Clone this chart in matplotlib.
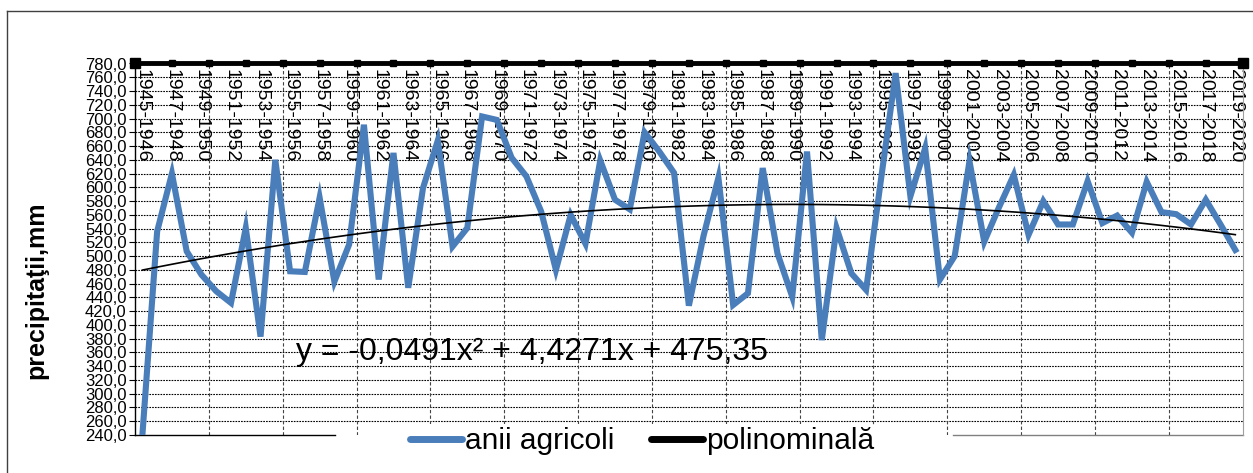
import numpy as np
import matplotlib.pyplot as plt

plt.rcParams['font.family'] = ['Liberation Sans', 'DejaVu Sans']

# anii agricoli 1945-1946 ... 2019-2020
start_years = list(range(1945, 2020))
year_labels = [f"{y}-{y + 1}" for y in start_years]
precip = [240, 536, 620, 507, 473, 449, 432, 541, 383, 640,
          478, 477, 585, 463, 517, 691, 466, 650, 454, 599,
          668, 514, 541, 703, 698, 643, 616, 565, 480, 560,
          518, 639, 582, 568, 680, 652, 621, 428, 530, 614,
          429, 446, 628, 504, 441, 652, 378, 541, 475, 451,
          610, 766, 587, 657, 466, 500, 638, 521, 571, 618,
          531, 580, 546, 546, 609, 548, 559, 534, 608, 564,
          561, 546, 582, 546, 509]
trend_coef = [-0.0491, 4.4271, 475.35]
equation = "y = -0,0491x² + 4,4271x + 475,35"
y_min, y_max, y_step = 240, 780, 20

idx = np.arange(len(precip))
trend = np.polyval(trend_coef, idx + 1)

fig = plt.figure(figsize=(12.53, 4.73), dpi=100)
ax = fig.add_axes([135 / 1253, 1 - 435 / 473, 1107.7 / 1253, 371.5 / 473])

ax.set_xlim(-0.5, len(precip) - 0.5)
ax.set_ylim(y_min, y_max)

# grid
yt = np.arange(y_min, y_max + 1, y_step)
ax.set_yticks(yt)
ax.set_yticklabels([f"{v:.1f}".replace('.', ',') for v in yt], fontsize=12)
ax.tick_params(axis='y', direction='out', length=4, width=0.8, pad=2)
for v in yt[1:-1]:
    ax.axhline(v, color='black', lw=0.8, ls=(0, (1.5, 1)), zorder=1)
for b in np.arange(-0.5 + 5, len(precip) - 0.5, 5):
    ax.axvline(b, color='#444444', lw=0.8, ls=(0, (3, 2)), zorder=1)
ax.set_xticks([])

ax.plot(idx, precip, color='#4a7ebb', lw=4.4, solid_joinstyle='miter', label='anii agricoli', zorder=3)
ax.plot(idx, trend, color='black', lw=1.2, label='polinominală', zorder=4)

# top axis with tick squares
tick_pos = np.arange(-0.5, len(precip), 2.5)
ax.plot([-0.5, len(precip) - 0.5], [y_max, y_max], color='black', lw=3.5, clip_on=False, zorder=5)
ax.plot(tick_pos, [y_max] * len(tick_pos), 's', color='black', ms=5, clip_on=False, zorder=5)
ax.plot([tick_pos[0], tick_pos[-1]], [y_max, y_max], 's', color='black', ms=7, clip_on=False, zorder=5)

for i in range(0, len(year_labels), 2):
    ax.annotate(year_labels[i], (i, y_max), xytext=(0, -4), textcoords='offset points',
                rotation=270, ha='center', va='top', fontsize=14, zorder=2)

ax.text(10.4, 361, equation, fontsize=23, ha='left', va='center', zorder=6)

for s in ['top', 'bottom']:
    ax.spines[s].set_visible(False)
ax.spines['left'].set_linewidth(1)
ax.spines['right'].set_color('#a0a0a0')
ax.axhline(y_min, xmin=0, xmax=200 / 1107.7, color='black', lw=1, clip_on=False)
ax.axhline(y_min, xmin=818 / 1107.7, xmax=1, color='#808080', lw=1, clip_on=False)

leg = ax.legend(loc='center', bbox_to_anchor=(642 / 1253, 1 - 441 / 473),
                bbox_transform=fig.transFigure, ncol=2, fontsize=21.5, frameon=True,
                handlelength=1.75, handletextpad=0.1, columnspacing=1.2,
                borderpad=0.1)
leg.get_frame().set_facecolor('white')
leg.get_frame().set_edgecolor('none')
leg.get_frame().set_alpha(1)
for h in leg.get_lines():
    h.set_linewidth(5)
    h.set_solid_capstyle('round')

fig.text(36 / 1253, 1 - 290 / 473, 'precipitaţii,mm', rotation=90, fontsize=18,
         fontweight='bold', ha='center', va='center')

# outer frame
fig.add_artist(plt.Line2D([7 / 1253, 7 / 1253], [0, 1 - 11 / 473], color='#404040', lw=1))
fig.add_artist(plt.Line2D([7 / 1253, 1], [1 - 11 / 473, 1 - 11 / 473], color='#404040', lw=1))

fig.savefig('out.png', dpi=100)
